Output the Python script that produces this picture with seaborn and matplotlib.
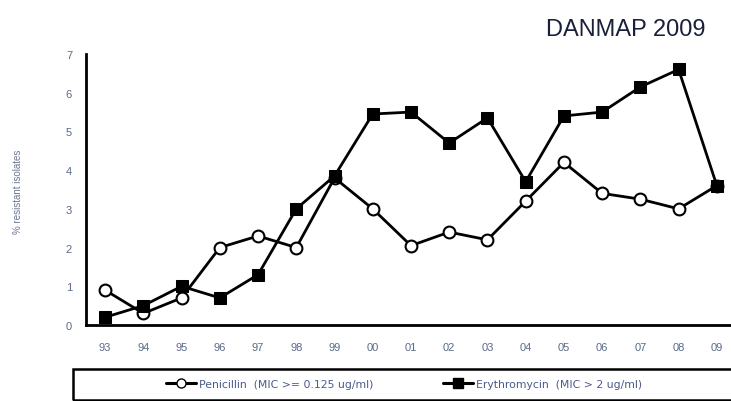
import numpy as np
import pandas as pd
import matplotlib
matplotlib.use('Agg')
import matplotlib.pyplot as plt
import seaborn as sns
from matplotlib.lines import Line2D
from matplotlib.patches import Rectangle

years = ['93', '94', '95', '96', '97', '98', '99', '00', '01',
         '02', '03', '04', '05', '06', '07', '08', '09']
penicillin = [0.9, 0.3, 0.7, 2.0, 2.3, 2.0, 3.8, 3.0, 2.05,
              2.4, 2.2, 3.2, 4.2, 3.4, 3.25, 3.0, 3.6]
erythromycin = [0.2, 0.5, 1.0, 0.7, 1.3, 3.0, 3.85, 5.45, 5.5,
                4.7, 5.35, 3.7, 5.4, 5.5, 6.15, 6.6, 3.6]
pen_label = 'Penicillin  (MIC >= 0.125 ug/ml)'
ery_label = 'Erythromycin  (MIC > 2 ug/ml)'

sns.set_style('white')
plt.rcParams['font.family'] = ['Liberation Sans', 'DejaVu Sans']

df = pd.DataFrame({'idx': np.arange(len(years)), 'year': years,
                   'pen': penicillin, 'ery': erythromycin})

fig = plt.figure(figsize=(7.31, 4.02), dpi=100)
ax = fig.add_axes([86 / 731, (402 - 326) / 402, 645 / 731, (326 - 55) / 402])

sns.lineplot(data=df, x='idx', y='pen', ax=ax, color='black', lw=2,
             marker='o', markersize=8.5, markerfacecolor='white',
             markeredgecolor='black', markeredgewidth=1.5, zorder=3)
sns.lineplot(data=df, x='idx', y='ery', ax=ax, color='black', lw=2,
             marker='s', markersize=8.5, markerfacecolor='black',
             markeredgecolor='black', zorder=4)

ax.set_xlim(-0.5, 16.37)
ax.set_ylim(0, 7)
ax.set_xticks(df['idx'])
ax.set_xticklabels(years)
ax.set_xticks(np.arange(0.5, 16, 1), minor=True)
ax.set_yticks(range(0, 8))
tick_col = '#5a6a8a'
ax.tick_params(axis='x', which='major', length=0, pad=12, labelsize=8, labelcolor=tick_col)
ax.tick_params(axis='x', which='minor', length=4, width=1.5, direction='out', color='black')
ax.tick_params(axis='y', length=4, width=1.5, direction='out', color='black',
               labelsize=8, labelcolor=tick_col, pad=6)
ax.set_xlabel('')
ax.set_ylabel('')
for s in ['top', 'right']:
    ax.spines[s].set_visible(False)
for s in ['left', 'bottom']:
    ax.spines[s].set_linewidth(2)
    ax.spines[s].set_color('black')

fig.text(18 / 731, 1 - 192 / 402, '% resistant isolates', rotation=90,
         ha='center', va='center', fontsize=7, color='#6a7590')
fig.text(705 / 731, 1 - 30 / 402, 'DANMAP 2009', ha='right', va='center',
         fontsize=17, color='#1a1f3a')

# legend box
fig.patches.append(Rectangle((73 / 731, 1.5 / 402), 680 / 731, 30.5 / 402,
                             transform=fig.transFigure, fill=False,
                             edgecolor='black', linewidth=1.8))
handles = [
    Line2D([0], [0], color='black', lw=2.2, marker='o', markersize=6.5,
           markerfacecolor='white', markeredgecolor='black'),
    Line2D([0], [0], color='black', lw=2.2, marker='s', markersize=6.5,
           markerfacecolor='black'),
]
leg = fig.legend(handles, [pen_label, ery_label], ncol=2,
                 bbox_to_anchor=(404 / 731, 1 - 385 / 402),
                 loc='center', frameon=False,
                 prop={'family': 'DejaVu Sans', 'size': 7.8},
                 handlelength=2.8, handletextpad=0.3, columnspacing=6.4)
for t in leg.get_texts():
    t.set_color('#4a5a8a')

fig.savefig('out.png', dpi=100)
